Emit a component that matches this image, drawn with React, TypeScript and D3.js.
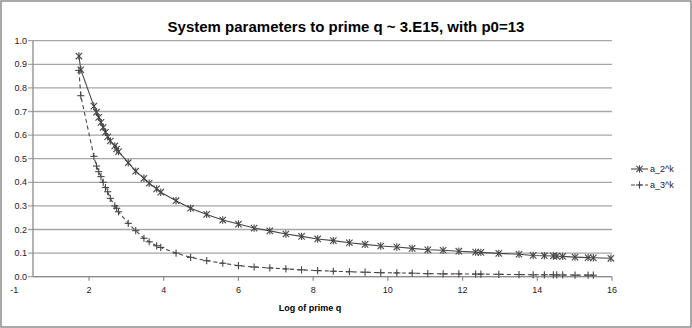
import React from "react";
import * as d3 from "d3";

const logQ = [1.73, 1.78, 2.13, 2.2, 2.26, 2.32, 2.38, 2.44, 2.5, 2.57, 2.69, 2.74, 2.79, 3.05, 3.25, 3.47, 3.61, 3.81, 3.92, 4.33, 4.72, 5.15, 5.58, 6.0, 6.42, 6.84, 7.27, 7.69, 8.12, 8.54, 8.97, 9.39, 9.81, 10.24, 10.65, 11.07, 11.48, 11.9, 12.35, 12.49, 12.97, 13.51, 13.89, 14.19, 14.43, 14.52, 14.68, 15.01, 15.36, 15.5, 15.97];
const a2k = [0.935, 0.877, 0.723, 0.697, 0.675, 0.654, 0.633, 0.612, 0.593, 0.575, 0.554, 0.541, 0.53, 0.483, 0.447, 0.417, 0.396, 0.372, 0.358, 0.322, 0.29, 0.264, 0.24, 0.223, 0.206, 0.194, 0.181, 0.171, 0.16, 0.153, 0.144, 0.137, 0.13, 0.126, 0.12, 0.114, 0.112, 0.108, 0.104, 0.103, 0.099, 0.095, 0.09, 0.089, 0.088, 0.087, 0.086, 0.083, 0.081, 0.08, 0.078];
const a3k = [0.874, 0.767, 0.51, 0.469, 0.445, 0.424, 0.4, 0.378, 0.36, 0.332, 0.3, 0.29, 0.275, 0.226, 0.195, 0.163, 0.148, 0.131, 0.124, 0.1, 0.082, 0.068, 0.057, 0.047, 0.041, 0.037, 0.033, 0.029, 0.026, 0.023, 0.021, 0.019, 0.017, 0.016, 0.015, 0.013, 0.012, 0.012, 0.011, 0.011, 0.01, 0.009, 0.008, 0.008, 0.008, 0.0075, 0.0074, 0.0069, 0.0066, 0.0064];

const xTickValues = [0, 2, 4, 6, 8, 10, 12, 14, 16];
const xTickLabels = ["-1", "2", "4", "6", "8", "10", "12", "14", "16"];
const yTickValues = [0, 0.1, 0.2, 0.3, 0.4, 0.5, 0.6, 0.7, 0.8, 0.9, 1.0];

const title = "System parameters to prime q ~ 3.E15, with p0=13";
const xTitle = "Log of prime q";
const seriesNames = ["a_2^k", "a_3^k"];

const W = 692;
const H = 328;
const FONT = "'Liberation Sans', Arial, sans-serif";
const LINE = "#474747";

function Star({ x, y }: { x: number; y: number }) {
  const r = 3.2;
  return (
    <g stroke={LINE} strokeWidth={1.1}>
      <line x1={x - r} y1={y - r} x2={x + r} y2={y + r} />
      <line x1={x - r} y1={y + r} x2={x + r} y2={y - r} />
      <line x1={x} y1={y - r - 0.5} x2={x} y2={y + r + 0.5} />
    </g>
  );
}

function Plus({ x, y }: { x: number; y: number }) {
  const r = 3.6;
  return (
    <g stroke={LINE} strokeWidth={1.1}>
      <line x1={x - r} y1={y} x2={x + r} y2={y} />
      <line x1={x} y1={y - r} x2={x} y2={y + r} />
    </g>
  );
}

export default function App() {
  const xScale = d3.scaleLinear().domain([0, 16]).range([14.3, 612]);
  const yScale = d3.scaleLinear().domain([0, 1]).range([276.7, 40.7]);
  const plotLeft = xScale(0.5);
  const plotRight = xScale(16);

  const line = d3
    .line<[number, number]>()
    .x((d) => xScale(d[0]))
    .y((d) => yScale(d[1]));

  const s2: [number, number][] = a2k.map((v, i) => [logQ[i], v]);
  const s3: [number, number][] = a3k.map((v, i) => [logQ[i], v]);

  return (
    <svg
      width={W}
      height={H}
      style={{ position: "absolute", left: 0, top: 0, background: "#fff" }}
      fontFamily={FONT}
    >
      <rect x={1} y={1} width={W - 2} height={H - 2} fill="#fff" stroke="#8c8c8c" strokeWidth={1.5} />
      <text
        x={346}
        y={32}
        textAnchor="middle"
        fontSize={15}
        fontWeight="bold"
        fill="#000"
      >
        {title}
      </text>

      {yTickValues.map((v) => (
        <g key={v}>
          <line
            x1={plotLeft - 5}
            x2={plotRight}
            y1={yScale(v)}
            y2={yScale(v)}
            stroke="#a6a6a6"
            strokeWidth={1.3}
          />
          <text
            x={plotLeft - 6}
            y={yScale(v) + 3}
            textAnchor="end"
            fontSize={9}
            fill="#222"
          >
            {v.toFixed(1)}
          </text>
        </g>
      ))}

      <line x1={plotLeft} x2={plotLeft} y1={yScale(1)} y2={yScale(0)} stroke="#8c8c8c" strokeWidth={1.3} />
      <line x1={plotLeft} x2={plotRight} y1={yScale(0)} y2={yScale(0)} stroke="#8c8c8c" strokeWidth={1.3} />

      {xTickValues.map((v, i) => (
        <g key={v}>
          {v > 0.5 && (
            <line
              x1={xScale(v)}
              x2={xScale(v)}
              y1={yScale(0)}
              y2={yScale(0) + 4}
              stroke="#8c8c8c"
              strokeWidth={1.2}
            />
          )}
          <text x={xScale(v)} y={yScale(0) + 16} textAnchor="middle" fontSize={9} fill="#222">
            {xTickLabels[i]}
          </text>
        </g>
      ))}

      <text x={310} y={311} textAnchor="middle" fontSize={9} fontWeight="bold" fill="#000">
        {xTitle}
      </text>

      <path d={line(s3) || ""} fill="none" stroke={LINE} strokeWidth={1.1} strokeDasharray="4,3" />
      <path d={line(s2) || ""} fill="none" stroke={LINE} strokeWidth={1.1} />

      {s3.map((d, i) => (
        <Plus key={"p" + i} x={xScale(d[0])} y={yScale(d[1])} />
      ))}
      {s2.map((d, i) => (
        <Star key={"s" + i} x={xScale(d[0])} y={yScale(d[1])} />
      ))}

      <g>
        <line x1={631} x2={648} y1={169} y2={169} stroke={LINE} strokeWidth={1.1} />
        <Star x={639.5} y={169} />
        <text x={650} y={172} fontSize={9} fill="#222">
          {seriesNames[0]}
        </text>
        <line x1={631} x2={648} y1={185} y2={185} stroke={LINE} strokeWidth={1.1} strokeDasharray="4,3" />
        <Plus x={639.5} y={185} />
        <text x={650} y={188} fontSize={9} fill="#222">
          {seriesNames[1]}
        </text>
      </g>
    </svg>
  );
}
